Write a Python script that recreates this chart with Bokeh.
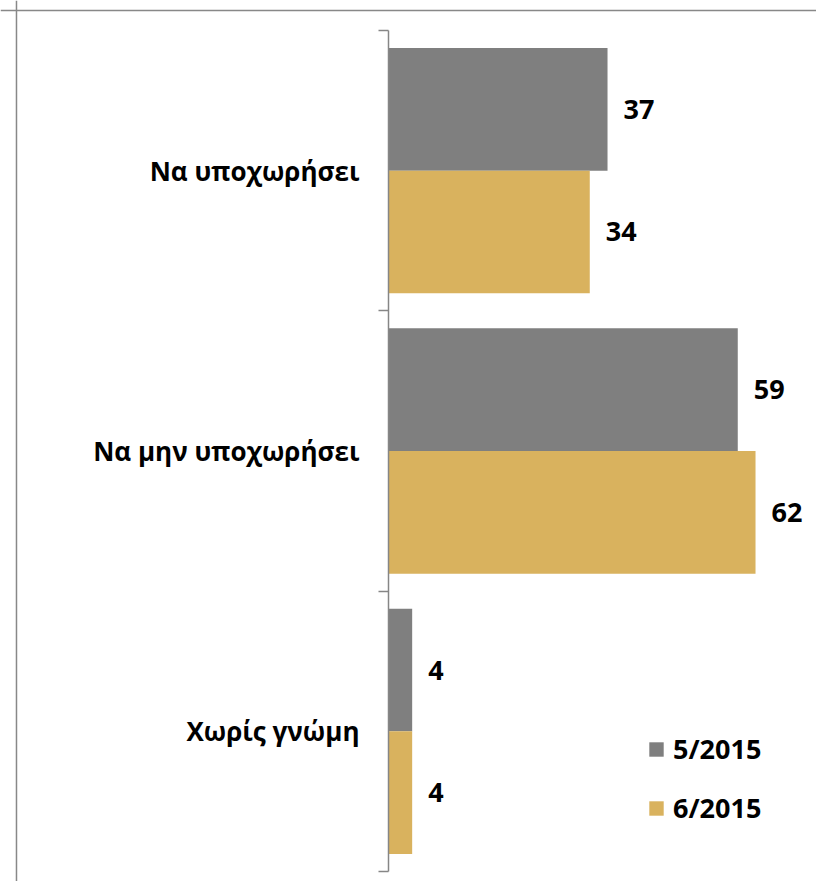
from bokeh.plotting import figure
from bokeh.models import (ColumnDataSource, Range1d, LinearAxis, FixedTicker,
                          Legend, LegendItem, Span)
from bokeh.transform import dodge
from bokeh.core.properties import value
from bokeh.embed import file_html
from bokeh.resources import INLINE

# ---- data ----
categories = ["Να υποχωρήσει", "Να μην υποχωρήσει", "Χωρίς γνώμη"]
series_names = ["5/2015", "6/2015"]
may_2015 = [37, 59, 4]
june_2015 = [34, 62, 4]

colors = ["#7F7F7F", "#D9B25E"]
FONT = "Open Sans"

pos = list(range(len(categories)))
src = ColumnDataSource(dict(pos=pos, cat=categories, may=may_2015, june=june_2015,
                            may_txt=[str(v) for v in may_2015],
                            june_txt=[str(v) for v in june_2015]))

X0, X1 = -65.54, 72.30
Y0, Y1 = 2.5357, -0.6070
p = figure(width=816, height=881, output_backend="svg", toolbar_location=None,
           x_range=Range1d(X0, X1), y_range=Range1d(Y0, Y1),
           x_axis_location=None, y_axis_location=None,
           min_border=0, min_border_left=0, min_border_right=0,
           min_border_top=0, min_border_bottom=0)
p.outline_line_color = None
p.xgrid.visible = False
p.ygrid.visible = False
p.background_fill_color = "white"
p.border_fill_color = "white"

off = 0.21875
bh = 0.4375
r1 = p.hbar(y=dodge("pos", -off, range=p.y_range), right="may", left=0, height=bh,
            source=src, fill_color=colors[0], line_color=None)
r2 = p.hbar(y=dodge("pos", off, range=p.y_range), right="june", left=0, height=bh,
            source=src, fill_color=colors[1], line_color=None)

p.text(x="may", y=dodge("pos", -off, range=p.y_range), text="may_txt", source=src,
       x_offset=16, text_align="left", text_baseline="middle",
       text_font=value(FONT), text_font_style="bold", text_font_size="27px",
       text_color="black")
p.text(x="june", y=dodge("pos", off, range=p.y_range), text="june_txt", source=src,
       x_offset=16, text_align="left", text_baseline="middle",
       text_font=value(FONT), text_font_style="bold", text_font_size="27px",
       text_color="black")

# category axis at x = 0
yaxis = LinearAxis(fixed_location=0,
                   ticker=FixedTicker(ticks=pos,
                                      minor_ticks=[i - 0.5 for i in pos] + [pos[-1] + 0.5]),
                   bounds=(-0.5, pos[-1] + 0.5))
yaxis.major_label_overrides = {i: c for i, c in zip(pos, categories)}
yaxis.axis_line_color = "#868686"
yaxis.axis_line_width = 1.5
yaxis.major_tick_in = 0
yaxis.major_tick_out = 0
yaxis.minor_tick_in = 0
yaxis.minor_tick_out = 10
yaxis.minor_tick_line_color = "#868686"
yaxis.minor_tick_line_width = 1.5
yaxis.major_label_standoff = 19
yaxis.major_label_text_font = FONT
yaxis.major_label_text_font_style = "bold"
yaxis.major_label_text_font_size = "26px"
yaxis.major_label_text_color = "black"
p.add_layout(yaxis, "left")

# outer chart-area border (only its left and top edges fall inside the picture)
p.add_layout(Span(location=-62.84, dimension="height",
                  line_color="#888888", line_width=1.5))
p.add_layout(Span(location=-0.5713, dimension="width",
                  line_color="#888888", line_width=1.5))

legend = Legend(items=[LegendItem(label=series_names[0], renderers=[r1]),
                       LegendItem(label=series_names[1], renderers=[r2])],
                location=(647, 55), orientation="vertical")
legend.glyph_width = 18
legend.glyph_height = 18
legend.label_standoff = 8
legend.label_height = 36
legend.spacing = 22
legend.padding = 0
legend.margin = 0
legend.border_line_color = None
legend.background_fill_alpha = 0
legend.label_text_font = FONT
legend.label_text_font_style = "bold"
legend.label_text_font_size = "27px"
legend.label_text_color = "black"
p.add_layout(legend, "center")

open("out.html", "w").write(file_html(p, INLINE))
